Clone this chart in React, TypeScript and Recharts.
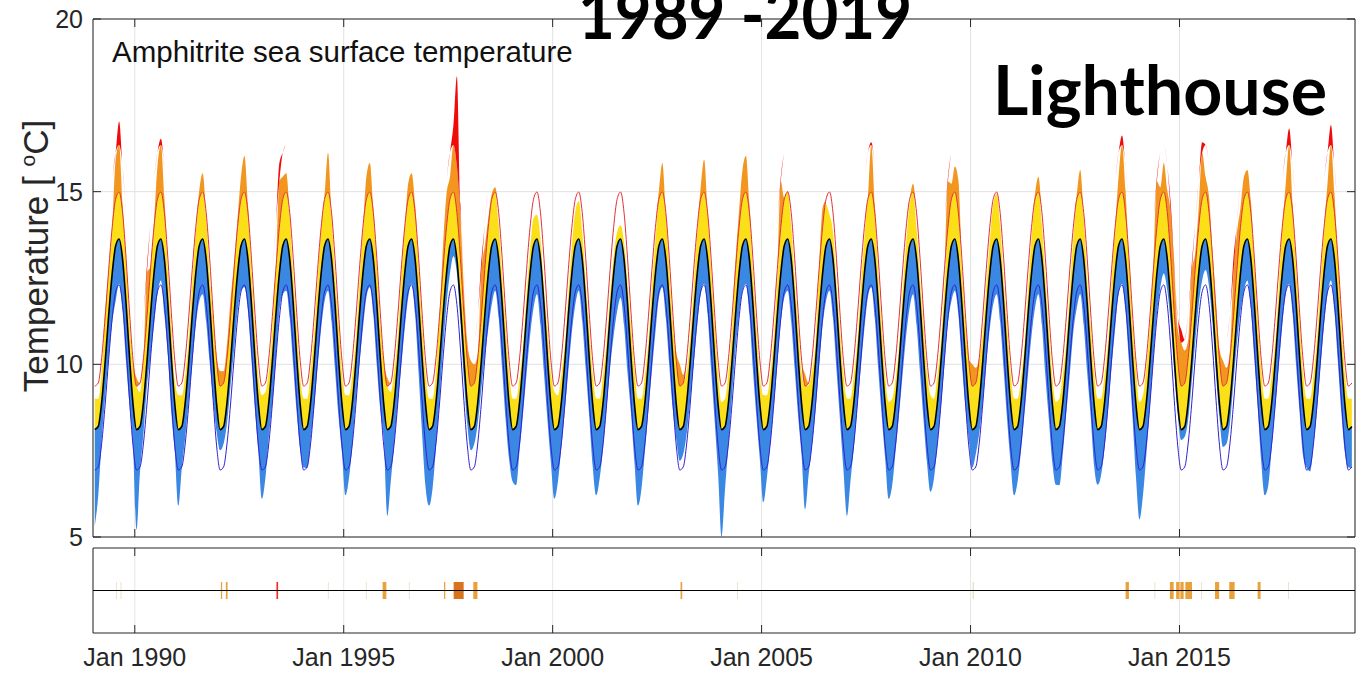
import React from "react";
import {
  ComposedChart,
  Area,
  Line,
  XAxis,
  YAxis,
  CartesianGrid,
  ReferenceArea,
  ReferenceLine,
} from "recharts";

// monthly climatology / thresholds (mid-month values, deg C)
const climMonthly = [8.11, 8.2, 8.91, 10.08, 11.42, 12.62, 13.43, 13.63, 13.04, 11.75, 10.19, 8.84];
const threshMonthly = [9.37, 9.46, 10.19, 11.38, 12.74, 13.96, 14.78, 14.99, 14.39, 13.07, 11.49, 10.11];
const lowerMonthly = [6.94, 7.03, 7.72, 8.85, 10.15, 11.32, 12.1, 12.3, 11.73, 10.47, 8.96, 7.64];

const firstYear = 1989;

// warmest SST of each month, as departure above climatology
const warmDev = [
  [0.9, 0.8, 0.9, 1.5, 1.3, 1.4, 2.5, 3.4, 1.6, 1.3, 1.0, 1.2], // 1989
  [1.5, 1.0, 1.2, 2.8, 1.4, 1.5, 2.3, 2.9, 1.8, 0.9, 0.9, 0.7],
  [1.0, 0.9, 0.8, 0.7, 0.9, 1.2, 1.6, 1.9, 1.2, 0.8, 1.2, 1.4],
  [1.7, 1.6, 1.7, 1.8, 1.5, 1.6, 2.0, 2.4, 1.6, 1.0, 0.9, 0.8],
  [1.0, 1.0, 0.9, 0.9, 1.3, 3.2, 2.0, 1.9, 1.2, 0.8, 0.9, 0.8],
  [0.9, 0.8, 0.9, 0.8, 1.0, 1.3, 1.5, 2.5, 1.2, 0.8, 1.0, 0.9], // 1994
  [1.0, 0.9, 0.8, 0.7, 0.9, 1.2, 2.0, 2.2, 1.5, 1.1, 1.0, 1.3],
  [1.5, 1.0, 0.9, 0.7, 1.0, 1.3, 1.8, 1.9, 1.6, 1.0, 1.0, 0.9],
  [0.9, 0.8, 0.9, 1.3, 2.0, 2.3, 2.0, 3.3, 5.3, 2.9, 2.0, 1.8],
  [2.0, 1.8, 1.4, 2.9, 2.0, 1.6, 1.5, 1.5, 1.0, 0.8, 0.9, 0.9],
  [0.9, 0.8, 0.7, 0.5, 0.6, 0.7, 0.8, 0.7, 0.6, 0.5, 0.8, 0.9], // 1999
  [1.1, 0.9, 0.8, 0.5, 0.6, 0.8, 1.0, 1.1, 0.8, 0.6, 0.8, 0.9],
  [0.9, 0.8, 0.8, 0.6, 0.6, 0.5, 0.4, 0.4, 0.5, 0.6, 0.9, 1.0],
  [0.9, 0.8, 0.8, 0.6, 0.8, 1.0, 1.6, 2.2, 1.3, 0.9, 1.0, 1.5],
  [1.9, 1.5, 0.9, 0.7, 0.8, 1.2, 1.7, 2.3, 1.4, 1.0, 1.0, 0.9],
  [0.8, 0.8, 0.9, 0.9, 1.6, 1.8, 2.2, 2.4, 1.6, 0.9, 0.9, 0.8], // 2004
  [1.0, 0.9, 0.8, 0.7, 1.0, 2.8, 1.4, 1.4, 1.0, 0.7, 0.9, 0.9],
  [1.6, 1.2, 0.9, 0.6, 1.4, 1.9, 1.2, 0.7, 0.8, 0.6, 0.8, 0.9],
  [0.9, 0.8, 0.8, 0.6, 0.8, 1.0, 1.4, 2.8, 1.6, 0.8, 0.9, 0.8],
  [0.8, 0.8, 0.7, 0.5, 0.7, 0.9, 1.2, 1.6, 0.9, 0.7, 0.9, 0.9],
  [1.0, 0.8, 0.8, 0.6, 0.8, 2.8, 1.8, 2.1, 2.3, 1.0, 1.0, 1.3], // 2009
  [1.9, 1.7, 1.2, 0.8, 0.8, 0.9, 1.2, 1.3, 1.0, 0.7, 0.9, 0.9],
  [0.9, 0.8, 0.7, 0.5, 0.7, 1.0, 1.5, 1.8, 1.0, 0.7, 0.8, 0.8],
  [0.8, 0.8, 0.8, 0.6, 0.7, 1.0, 1.5, 2.0, 1.2, 0.7, 0.9, 0.9],
  [0.9, 0.8, 0.8, 0.6, 0.9, 1.3, 2.0, 3.0, 2.0, 1.2, 1.0, 1.0],
  [0.8, 0.9, 1.0, 1.0, 1.5, 2.8, 1.7, 2.2, 2.0, 2.9, 2.7, 2.2], // 2014
  [2.9, 2.2, 1.8, 2.8, 1.8, 1.9, 3.0, 1.8, 1.8, 1.5, 1.6, 1.6],
  [2.0, 1.7, 1.5, 3.0, 2.4, 1.9, 2.0, 2.0, 1.7, 1.2, 1.0, 1.0],
  [0.9, 0.8, 0.8, 0.6, 0.8, 1.3, 1.8, 3.2, 1.6, 1.0, 1.0, 0.9],
  [0.9, 0.8, 0.8, 0.7, 0.9, 1.2, 1.8, 3.3, 1.9, 1.3, 1.0, 0.9],
  [0.9, 0.8], // 2019
];

// coldest SST of each month, as departure below climatology
const coolDev = [
  [-2.8, -2.0, -1.1, -1.0, -1.2, -1.4, -1.6, -1.3, -1.5, -1.7, -1.4, -1.2], // 1989
  [-2.9, -1.3, -0.9, -0.7, -1.2, -1.5, -1.4, -1.2, -1.6, -1.5, -1.6, -1.4],
  [-2.2, -1.2, -1.0, -1.1, -1.4, -1.5, -1.6, -1.6, -1.8, -1.7, -1.2, -0.8],
  [-0.6, -0.5, -0.6, -0.7, -1.0, -1.1, -1.3, -1.4, -1.5, -1.6, -1.5, -1.4],
  [-2.0, -1.5, -1.0, -1.2, -1.3, -1.1, -1.4, -1.5, -1.7, -1.8, -1.6, -1.3],
  [-1.1, -1.2, -1.1, -1.3, -1.5, -1.6, -1.6, -1.5, -1.8, -1.9, -1.7, -1.4], // 1994
  [-1.9, -1.5, -1.2, -1.1, -1.4, -1.6, -1.5, -1.4, -1.6, -1.8, -1.5, -1.0],
  [-2.5, -1.6, -1.2, -1.2, -1.5, -1.6, -1.5, -1.3, -1.6, -2.0, -2.2, -2.4],
  [-2.2, -1.8, -1.3, -1.1, -1.0, -0.9, -0.8, -0.5, -0.4, -0.5, -0.6, -0.6],
  [-0.6, -0.5, -0.6, -0.8, -1.2, -1.6, -1.7, -1.5, -1.7, -1.9, -1.8, -1.6],
  [-1.5, -1.7, -1.4, -1.5, -1.7, -1.8, -1.8, -1.6, -1.9, -2.0, -1.8, -1.7], // 1999
  [-2.0, -1.6, -1.3, -1.4, -1.6, -1.7, -1.7, -1.5, -1.8, -1.9, -1.7, -1.8],
  [-1.9, -1.5, -1.3, -1.3, -1.5, -1.8, -1.9, -1.7, -1.9, -2.0, -1.6, -1.7],
  [-2.2, -1.8, -1.4, -1.4, -1.6, -1.7, -1.5, -1.4, -1.7, -1.8, -1.5, -1.0],
  [-0.9, -0.8, -0.9, -1.1, -1.4, -1.5, -1.4, -1.3, -1.6, -1.9, -1.8, -2.0],
  [-3.1, -1.8, -1.2, -1.0, -1.0, -1.2, -1.3, -1.3, -1.6, -1.9, -1.7, -1.6], // 2004
  [-2.1, -1.5, -1.2, -1.3, -1.4, -1.4, -1.5, -1.5, -1.8, -1.9, -1.7, -1.5],
  [-2.3, -1.4, -1.2, -1.4, -1.5, -1.5, -1.6, -1.5, -1.7, -1.9, -1.8, -1.9],
  [-2.5, -1.6, -1.3, -1.3, -1.5, -1.6, -1.5, -1.4, -1.7, -1.9, -1.7, -1.6],
  [-2.0, -1.7, -1.4, -1.5, -1.7, -1.8, -1.8, -1.6, -1.9, -2.0, -1.8, -1.7],
  [-1.8, -1.5, -1.2, -1.3, -1.4, -1.4, -1.6, -1.5, -1.6, -1.7, -1.4, -1.0], // 2009
  [-1.1, -0.8, -0.9, -1.2, -1.4, -1.6, -1.7, -1.6, -1.8, -1.9, -1.8, -1.7],
  [-1.9, -1.6, -1.4, -1.5, -1.7, -1.8, -1.8, -1.6, -1.9, -2.1, -1.8, -1.7],
  [-1.6, -1.7, -1.5, -1.5, -1.7, -1.7, -1.8, -1.6, -1.9, -2.0, -1.7, -1.8],
  [-1.6, -1.4, -1.3, -1.4, -1.5, -1.6, -1.4, -1.3, -1.5, -1.7, -1.7, -2.1],
  [-2.6, -2.0, -1.5, -1.3, -1.3, -1.2, -1.2, -1.0, -0.9, -0.6, -0.4, -0.3], // 2014
  [-0.3, -0.3, -0.5, -0.6, -0.8, -0.9, -1.0, -0.9, -0.8, -0.6, -0.5, -0.4],
  [-0.5, -0.5, -0.6, -0.6, -0.8, -1.1, -1.3, -1.2, -1.4, -1.6, -1.5, -1.7],
  [-1.9, -1.7, -1.3, -1.3, -1.5, -1.5, -1.4, -1.3, -1.6, -1.8, -1.6, -1.5],
  [-1.1, -1.3, -1.2, -1.4, -1.5, -1.5, -1.4, -1.2, -1.5, -1.7, -1.6, -1.4],
  [-1.1, -1.2], // 2019
];

// heatwave events for the lower strip (decimal years)
const eventStart = [
  1989.55, 1989.66, 1992.06, 1992.18, 1993.39, 1994.62, 1995.53, 1995.93, 1996.56, 1997.4,
  1997.63, 1998.1, 2003.06, 2004.41, 2010.05, 2013.71, 2014.4, 2014.77, 2014.92, 2015.02,
  2015.14, 2015.52, 2015.85, 2016.19, 2016.87, 2017.6,
];
const eventEnd = [
  1989.57, 1989.68, 1992.09, 1992.22, 1993.43, 1994.64, 1995.55, 1996.02, 1996.58, 1997.43,
  1997.87, 1998.2, 2003.1, 2004.43, 2010.08, 2013.79, 2014.42, 2014.86, 2015.0, 2015.1,
  2015.3, 2015.54, 2015.95, 2016.32, 2016.94, 2017.62,
];
const eventLevel = [
  "faint", "faint", "moderate", "moderate", "severe", "faint", "faint", "moderate", "faint", "moderate",
  "strong", "moderate", "moderate", "faint", "faint", "moderate", "faint", "moderate", "moderate", "moderate",
  "moderate", "faint", "moderate", "moderate", "moderate", "faint",
];

const yearTicks = [1990, 1995, 2000, 2005, 2010, 2015];
const tempTicks = [5, 10, 15, 20];
const xDomain = [1989, 2019.2];

const eventColors: Record<string, string> = {
  faint: "#e9dcc4",
  moderate: "#e9a23b",
  strong: "#d9731c",
  severe: "#ee2a2a",
};

const rows: any[] = [];
warmDev.forEach((yr, i) => {
  yr.forEach((w, m) => {
    const c = climMonthly[m];
    const th = threshMonthly[m];
    const strong = c + 2 * (th - c);
    const hi = c + w;
    const lo = c + coolDev[i][m];
    rows.push({
      t: firstYear + i + (m + 0.5) / 12,
      clim: c,
      thresh: th,
      lower: lowerMonthly[m],
      cool: [lo, c],
      warm: [c, Math.min(hi, th)],
      hot: [th, Math.max(th, Math.min(hi, strong))],
      strong: [strong, Math.max(strong, hi)],
    });
  });
});

const events = eventStart.map((s, i) => ({ t: s, s, e: eventEnd[i], level: eventLevel[i], mid: 0 }));

const axisColor = "#262626";
const tickFont = { fontFamily: "Liberation Sans, Arial", fontSize: 25, fill: axisColor };

function MainPanel() {
  return (
    <ComposedChart
      width={1358}
      height={560}
      data={rows}
      margin={{ top: 18, right: 2, left: 92, bottom: 22 }}
    >
      <CartesianGrid xAxisId="b" yAxisId="l" stroke="#e2e2e2" strokeWidth={1} />
      <XAxis
        xAxisId="b"
        dataKey="t"
        type="number"
        domain={xDomain}
        ticks={yearTicks}
        interval={0}
        allowDataOverflow
        height={1}
        tickSize={-8}
        tickFormatter={() => ""}
        axisLine={{ stroke: axisColor }}
        tickLine={{ stroke: axisColor }}
      />
      <XAxis
        xAxisId="t"
        orientation="top"
        dataKey="t"
        type="number"
        domain={xDomain}
        ticks={yearTicks}
        interval={0}
        allowDataOverflow
        height={1}
        tickSize={-8}
        tickFormatter={() => ""}
        axisLine={{ stroke: axisColor }}
        tickLine={{ stroke: axisColor }}
      />
      <YAxis
        yAxisId="l"
        type="number"
        domain={[5, 20]}
        ticks={tempTicks}
        interval={0}
        allowDataOverflow
        width={1}
        tickSize={-8}
        tickMargin={18}
        tick={tickFont}
        axisLine={{ stroke: axisColor }}
        tickLine={{ stroke: axisColor }}
      />
      <YAxis
        yAxisId="r"
        orientation="right"
        type="number"
        domain={[5, 20]}
        ticks={tempTicks}
        interval={0}
        allowDataOverflow
        width={1}
        tickSize={-8}
        tickFormatter={() => ""}
        axisLine={{ stroke: axisColor }}
        tickLine={{ stroke: axisColor }}
      />
      <Area xAxisId="b" yAxisId="l" dataKey="cool" type="monotone" fill="#3a88e4" fillOpacity={1} stroke="none" isAnimationActive={false} dot={false} activeDot={false} />
      <Area xAxisId="b" yAxisId="l" dataKey="warm" type="monotone" fill="#fbdf19" fillOpacity={1} stroke="none" isAnimationActive={false} dot={false} activeDot={false} />
      <Area xAxisId="b" yAxisId="l" dataKey="hot" type="monotone" fill="#f2961f" fillOpacity={1} stroke="none" isAnimationActive={false} dot={false} activeDot={false} />
      <Area xAxisId="b" yAxisId="l" dataKey="strong" type="monotone" fill="#f00a0a" fillOpacity={1} stroke="none" isAnimationActive={false} dot={false} activeDot={false} />
      <Line xAxisId="b" yAxisId="l" dataKey="lower" type="monotone" stroke="#3020d0" strokeWidth={1} dot={false} activeDot={false} isAnimationActive={false} />
      <Line xAxisId="b" yAxisId="l" dataKey="thresh" type="monotone" stroke="#e3303a" strokeWidth={1} dot={false} activeDot={false} isAnimationActive={false} />
      <Line xAxisId="b" yAxisId="l" dataKey="clim" type="monotone" stroke="#000000" strokeWidth={1.6} dot={false} activeDot={false} isAnimationActive={false} />
    </ComposedChart>
  );
}

function EventPanel() {
  return (
    <ComposedChart
      width={1358}
      height={138}
      data={events}
      margin={{ top: 7, right: 2, left: 92, bottom: 44 }}
    >
      <CartesianGrid xAxisId="b" yAxisId="l" horizontal={false} stroke="#e6e6e6" />
      <XAxis
        xAxisId="b"
        dataKey="t"
        type="number"
        domain={xDomain}
        ticks={yearTicks}
        interval={0}
        allowDataOverflow
        height={1}
        tickSize={-8}
        tickMargin={23}
        tick={tickFont}
        tickFormatter={(v: number) => `Jan ${v}`}
        axisLine={{ stroke: axisColor }}
        tickLine={{ stroke: axisColor }}
      />
      <XAxis
        xAxisId="t"
        orientation="top"
        dataKey="t"
        type="number"
        domain={xDomain}
        ticks={yearTicks}
        interval={0}
        allowDataOverflow
        height={1}
        tickSize={-8}
        tickFormatter={() => ""}
        axisLine={{ stroke: axisColor }}
        tickLine={{ stroke: axisColor }}
      />
      <YAxis yAxisId="l" type="number" domain={[-1, 1]} allowDataOverflow width={1} tick={false} tickLine={false} axisLine={{ stroke: axisColor }} />
      <YAxis yAxisId="r" orientation="right" type="number" domain={[-1, 1]} allowDataOverflow width={1} tick={false} tickLine={false} axisLine={{ stroke: axisColor }} />
      <Line xAxisId="b" yAxisId="l" dataKey="mid" stroke="none" dot={false} activeDot={false} isAnimationActive={false} />
      {events.map((ev, i) => (
        <ReferenceArea
          key={i}
          xAxisId="b"
          yAxisId="l"
          x1={ev.s}
          x2={ev.e}
          y1={-0.2}
          y2={0.2}
          fill={eventColors[ev.level]}
          fillOpacity={1}
          stroke="none"
        />
      ))}
      <ReferenceLine xAxisId="b" yAxisId="l" y={0} stroke="#000" strokeWidth={1.2} />
    </ComposedChart>
  );
}

export default function App() {
  return (
    <div style={{ position: "absolute", left: 0, top: 0, width: 1358, height: 678, background: "#fff", overflow: "hidden" }}>
      <div style={{ position: "absolute", left: 0, top: 0 }}>
        <MainPanel />
      </div>
      <div style={{ position: "absolute", left: 0, top: 540 }}>
        <EventPanel />
      </div>
      <svg width={1358} height={678} style={{ position: "absolute", left: 0, top: 0, pointerEvents: "none" }}>
        <text x={112} y={62} fontFamily="Liberation Sans, Arial" fontSize={29.5} fill="#111">
          Amphitrite sea surface temperature
        </text>
        <text x={745} y={39} textAnchor="middle" fontFamily="Lato" fontWeight={700} fontSize={68} fill="#000" textLength={334} lengthAdjust="spacingAndGlyphs">
          1989 -2019
        </text>
        <text x={993} y={115} fontFamily="Lato" fontWeight={700} fontSize={68} fill="#000" textLength={334} lengthAdjust="spacingAndGlyphs">
          Lighthouse
        </text>
        <text transform="translate(48 256) rotate(-90)" textAnchor="middle" fontFamily="Liberation Sans, Arial" fontSize={35} fill={axisColor}>
          Temperature [ <tspan fontSize={21} dy={-13}>o</tspan><tspan dy={13}>C]</tspan>
        </text>
      </svg>
    </div>
  );
}
